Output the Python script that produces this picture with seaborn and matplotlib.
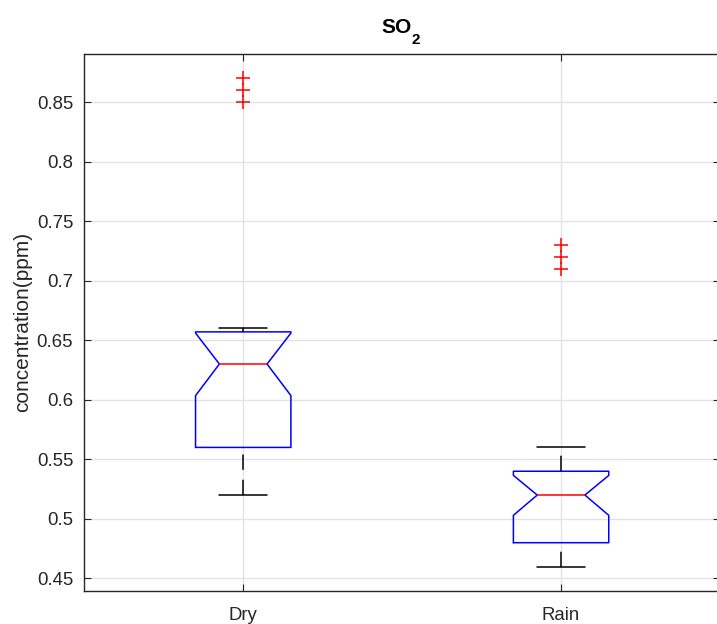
import matplotlib
matplotlib.use("Agg")
import matplotlib.pyplot as plt
import seaborn as sns

# ---- data ----
groups = ["Dry", "Rain"]
medians = [0.630, 0.520]
q1s = [0.560, 0.480]
q3s = [0.657, 0.540]
whislos = [0.520, 0.460]
whishis = [0.660, 0.560]
notch_lo = [0.6035, 0.503]
notch_hi = [0.656, 0.5365]
outliers = [[0.85, 0.86, 0.87], [0.71, 0.72, 0.73]]
yticks = [0.45, 0.5, 0.55, 0.6, 0.65, 0.7, 0.75, 0.8, 0.85]
ytick_labels = ["0.45", "0.5", "0.55", "0.6", "0.65", "0.7", "0.75", "0.8", "0.85"]
title_main = "SO"
title_sub = "2"
ylabel = "concentration(ppm)"

sns.set_style("ticks")
plt.rcParams["font.family"] = ["Liberation Sans", "DejaVu Sans"]

dark = "#262626"
fig = plt.figure(figsize=(7.17, 6.24), dpi=100)
ax = fig.add_axes([84.3 / 717, 1 - 590.7 / 624, (720 - 84.3) / 717, (590.7 - 54) / 624])

stats = []
for i, g in enumerate(groups):
    stats.append(dict(label=g, med=medians[i], q1=q1s[i], q3=q3s[i],
                      whislo=whislos[i], whishi=whishis[i],
                      cilo=notch_lo[i], cihi=notch_hi[i], fliers=outliers[i]))

res = ax.bxp(stats, positions=[1, 2], widths=0.30, shownotches=True,
             patch_artist=False, manage_ticks=False,
             boxprops=dict(color="#0000ff", linewidth=1.1),
             medianprops=dict(color="#ff0000", linewidth=1.1),
             whiskerprops=dict(color="black", linewidth=1.1, linestyle=(0, (10.0, 6.5))),
             capprops=dict(color="black", linewidth=1.1),
             flierprops=dict(marker="+", markeredgecolor="#ff0000", markersize=10,
                             markeredgewidth=1.1, linestyle="none"))
# MATLAB draws the lower whisker upward from the cap
for k, w in enumerate(res["whiskers"]):
    if k % 2 == 0:
        x, y = w.get_data()
        w.set_data(list(x)[::-1], list(y)[::-1])
for artist in res["boxes"] + res["medians"] + res["whiskers"] + res["caps"] + res["fliers"]:
    artist.set_zorder(3)

ax.set_xlim(0.5, 2.5)
ax.set_ylim(0.4397, 0.8903)
ax.set_xticks([1, 2])
ax.set_xticklabels(groups)
ax.set_yticks(yticks)
ax.set_yticklabels(ytick_labels)

ax.grid(True, color="#e3e3e3", linewidth=1.0, zorder=0)
ax.set_axisbelow(True)
for s in ax.spines.values():
    s.set_color(dark)
    s.set_linewidth(1.0)
ax.tick_params(direction="in", length=5, width=0.8, color=dark, labelcolor=dark,
               labelsize=13.4, top=True, right=True)
ax.tick_params(axis="y", pad=8)
ax.tick_params(axis="x", pad=12)

ax.set_ylabel(ylabel, fontsize=15, color=dark, labelpad=3)

# title "SO2" with MATLAB-style lowered subscript
ax.annotate(title_main, xy=(0.5, 1.0), xycoords="axes fraction",
            xytext=(6.5, 15.1), textcoords="offset points",
            ha="right", va="baseline", fontsize=15, fontweight="bold", color="black")
ax.annotate(title_sub, xy=(0.5, 1.0), xycoords="axes fraction",
            xytext=(7.0, 7.2), textcoords="offset points",
            ha="left", va="baseline", fontsize=11, fontweight="bold", color="black")

fig.savefig("out.png", dpi=100)
